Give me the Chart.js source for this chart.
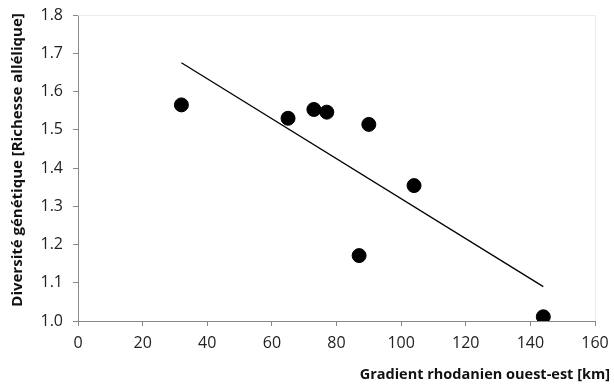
<!DOCTYPE html>
<html>
<head>
<meta charset="utf-8">
<script src="https://cdn.jsdelivr.net/npm/chart.js@4/dist/chart.umd.min.js"></script>
<style>
html,body{margin:0;padding:0;background:#fff;}
#wrap{width:614px;height:385px;}
</style>
</head>
<body>
<div id="wrap"><canvas id="c" width="614" height="385"></canvas></div>
<script>
const distanceKm = [32, 65, 73, 77, 90, 87, 104, 144];
const richesse = [1.565, 1.53, 1.553, 1.546, 1.514, 1.171, 1.354, 1.011];
const trendX = [32, 144];
const trendY = [1.675, 1.09];
const xTitle = 'Gradient rhodanien ouest-est [km]';
const yTitle = 'Diversité génétique [Richesse allélique]';

const pts = distanceKm.map((x, i) => ({x: x, y: richesse[i]}));
const trend = trendX.map((x, i) => ({x: x, y: trendY[i]}));

const font = "'Open Sans', 'Liberation Sans', sans-serif";

const frame = {
  id: 'frame',
  beforeDatasetsDraw(chart) {
    const a = chart.chartArea, ctx = chart.ctx;
    ctx.save();
    ctx.strokeStyle = '#ececec';
    ctx.lineWidth = 1;
    ctx.beginPath();
    ctx.moveTo(a.left, a.top + 0.5);
    ctx.lineTo(a.right + 0.5, a.top + 0.5);
    ctx.lineTo(a.right + 0.5, a.bottom);
    ctx.stroke();
    ctx.restore();
  },
  afterDraw(chart) {
    const ctx = chart.ctx;
    ctx.save();
    ctx.fillStyle = '#111';
    ctx.font = "bold 14.5px " + font;
    ctx.textAlign = 'right';
    ctx.textBaseline = 'middle';
    ctx.fillText(xTitle, chart.width - 4, chart.chartArea.bottom + 54);
    ctx.translate(18, 160);
    ctx.rotate(-Math.PI / 2);
    ctx.font = "bold 15px " + font;
    ctx.textAlign = 'center';
    ctx.fillText(yTitle, 0, 0);
    ctx.restore();
  }
};

new Chart(document.getElementById('c'), {
  type: 'scatter',
  data: {
    datasets: [
      {
        data: pts,
        backgroundColor: '#000',
        borderColor: '#000',
        pointRadius: 7,
        pointHoverRadius: 7
      },
      {
        type: 'line',
        data: trend,
        borderColor: '#000',
        borderWidth: 1.3,
        pointRadius: 0,
        fill: false,
        showLine: true
      }
    ]
  },
  options: {
    responsive: false,
    animation: false,
    layout: {padding: {top: 15, right: 19, left: 0, bottom: 0}},
    plugins: {legend: {display: false}, tooltip: {enabled: false}},
    scales: {
      x: {
        type: 'linear',
        min: 0, max: 160,
        afterFit: s => { s.height = 64; s.paddingLeft = 0; s.paddingRight = 0; },
        ticks: {stepSize: 20, color: '#222', font: {family: font, size: 16, lineHeight: 1}, padding: 9},
        grid: {display: true, drawOnChartArea: false, drawTicks: true, tickLength: 5, color: '#888'},
        border: {display: true, color: '#888', width: 1},
        title: {display: false, text: xTitle}
      },
      y: {
        type: 'linear',
        min: 1.0, max: 1.8,
        afterFit: s => { s.width = 78; s.paddingTop = 0; s.paddingBottom = 0; },
        ticks: {stepSize: 0.1, color: '#222', font: {family: font, size: 16, lineHeight: 1}, padding: 10,
          callback: v => v.toFixed(1)},
        grid: {display: true, drawOnChartArea: false, drawTicks: true, tickLength: 5, color: '#888'},
        border: {display: true, color: '#888', width: 1},
        title: {display: false, text: yTitle}
      }
    }
  },
  plugins: [frame]
});
</script>
</body>
</html>
